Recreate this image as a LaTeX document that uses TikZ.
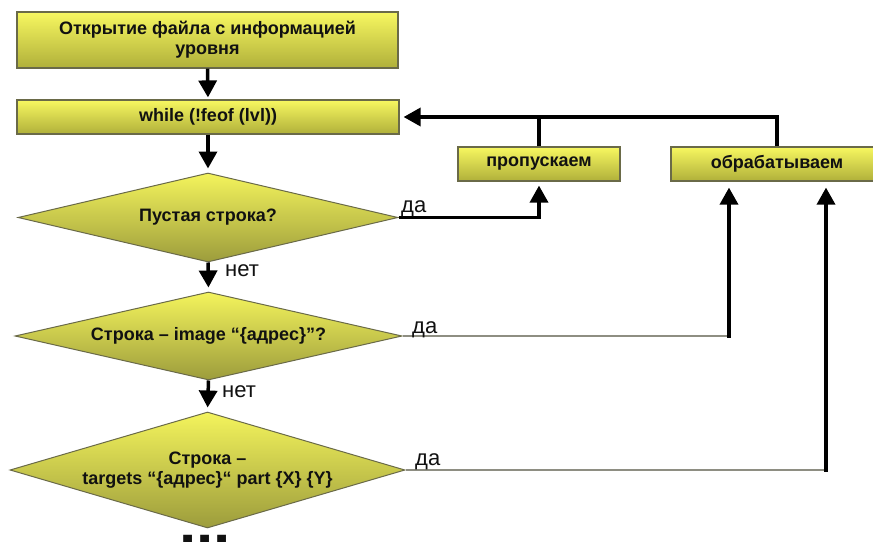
\documentclass[tikz,border=0pt]{standalone}
\usepackage{fontspec}
\setmainfont{Liberation Sans}
\usetikzlibrary{shapes.geometric,arrows.meta}
\definecolor{boxtop}{HTML}{F7F760}
\definecolor{boxbot}{HTML}{B0B03A}
\definecolor{diatop}{HTML}{F4F45C}
\definecolor{diabot}{HTML}{9C9C3C}
\definecolor{bordc}{HTML}{6A6A48}
\definecolor{linec}{HTML}{8E8E82}
\definecolor{txtc}{HTML}{111111}
\begin{document}
\begin{tikzpicture}[x=1pt,y=-1pt,
  box/.style={draw=bordc, line width=1.2pt, top color=boxtop, bottom color=boxbot,
    inner sep=0pt, font=\bfseries\fontsize{18}{20}\selectfont, text=txtc, align=center},
  dia/.style={shape=diamond, draw=bordc, line width=1pt, top color=diatop, bottom color=diabot,
    inner sep=0pt, font=\bfseries\fontsize{18}{20.5}\selectfont, text=txtc, align=center},
  arr/.style={line width=3.5pt, -{Triangle[width=18pt,length=17pt]}},
  thk/.style={line width=3.5pt},
  gline/.style={draw=linec, line width=1.3pt},
  lab/.style={font=\fontsize{22}{24}\selectfont, text=txtc, inner sep=0pt}
]
\useasboundingbox (0,0) rectangle (873,541);
\fill[white] (0,0) rectangle (873,541);

\node[box, minimum width=381pt, minimum height=56pt] (b1) at (207.5,40) {Открытие файла с информацией\\уровня};
\node[box, minimum width=382pt, minimum height=34pt] (b2) at (208,117) {while (!feof (lvl))};
\node[dia, minimum width=380pt, minimum height=89pt, aspect=4.27] (d1) at (208,217.5) {Пустая строка?};
\node[dia, minimum width=387pt, minimum height=88pt, aspect=4.4] (d2) at (208.5,336) {Строка – image “\{адрес\}”?};
\node[dia, minimum width=395pt, minimum height=116pt, aspect=3.4] (d3) at (207.5,470) {Строка –\\targets “\{адрес\}“ part \{X\} \{Y\}};
\node[box, minimum width=162pt, minimum height=34pt] (p) at (539,164) {пропускаем};
\node[box, minimum width=212pt, minimum height=34pt] (o) at (777,164) {обрабатываем};

\node[font=\bfseries\fontsize{62}{62}\selectfont, anchor=base, inner sep=0pt, text=txtc] (dots) at (205,544) {...};

\coordinate (c2) at (729,336);
\coordinate (c3) at (826,470);

\draw[arr, shorten >=2pt] (b1.south) -- (b2.north);
\draw[arr, shorten >=4pt] (b2.south) -- (d1.north);
\draw[arr, shorten >=4pt] (d1.south) -- (d2.north);
\draw[arr, shorten >=4pt] (d2.south) -- (d3.north);

\draw[arr, shorten >=4pt] (d1.east) -| (p.south);
\draw[thk] (p.north) -- (p.north |- b2.east);
\draw[arr, shorten >=4pt] (o.north) |- (b2.east);

\draw[gline] (d2.east) -- (c2);
\draw[arr, shorten >=6pt] ([yshift=-1.5pt]c2) -- (c2 |- o.south);
\draw[gline] (d3.east) -- (c3);
\draw[arr, shorten >=6pt] ([yshift=-1.5pt]c3) -- (c3 |- o.south);

\node[lab, anchor=base west] (y1) at (401,212) {да};
\node[lab, anchor=base west] (y2) at (412,333) {да};
\node[lab, anchor=base west] (y3) at (415,465) {да};
\node[lab, anchor=base west] (n1) at (225,276) {нет};
\node[lab, anchor=base west] (n2) at (222,397) {нет};
\end{tikzpicture}
\end{document}
